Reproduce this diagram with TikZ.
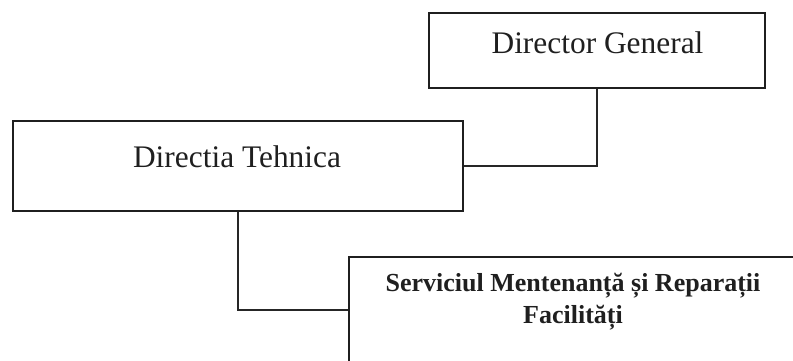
\documentclass[tikz,border=0pt]{standalone}
\usepackage{fontspec}
\setmainfont{Liberation Serif}
\begin{document}
\begin{tikzpicture}[x=1pt,y=-1pt,
  unitbox/.style={draw=black!88, line width=1.7pt, rectangle, inner sep=0pt},
  link/.style={draw=black!85, line width=1.3pt},
  title/.style={inner sep=0pt, anchor=base, text=black!88, font=\fontsize{31.4}{36}\selectfont},
  subtitle/.style={inner sep=0pt, align=center, text=black!88, font=\fontsize{26}{32}\selectfont\bfseries}]
  \useasboundingbox (0,0) rectangle (793,360);

  % boxes
  \node[unitbox, minimum width=336pt, minimum height=75pt] (dg) at (597,50.5) {};
  \node[unitbox, minimum width=450pt, minimum height=90pt] (dt) at (238,166) {};
  \node[unitbox, minimum width=448pt, minimum height=106pt] (sm) at (573,310) {};

  % labels
  \node[title] (dgt) at (597.5,53) {Director General};
  \node[title] (dtt) at (237,167) {Directia Tehnica};
  \node[subtitle, anchor=north] (smt) at (573,273) {Serviciul Mentenanță și Reparații\\Facilități};

  % connectors
  \draw[link] (dg.south) -- (dg.south |- dt.east) -- (dt.east);
  \draw[link] (dt.south) -- (dt.south |- sm.west) -- (sm.west);
\end{tikzpicture}
\end{document}
